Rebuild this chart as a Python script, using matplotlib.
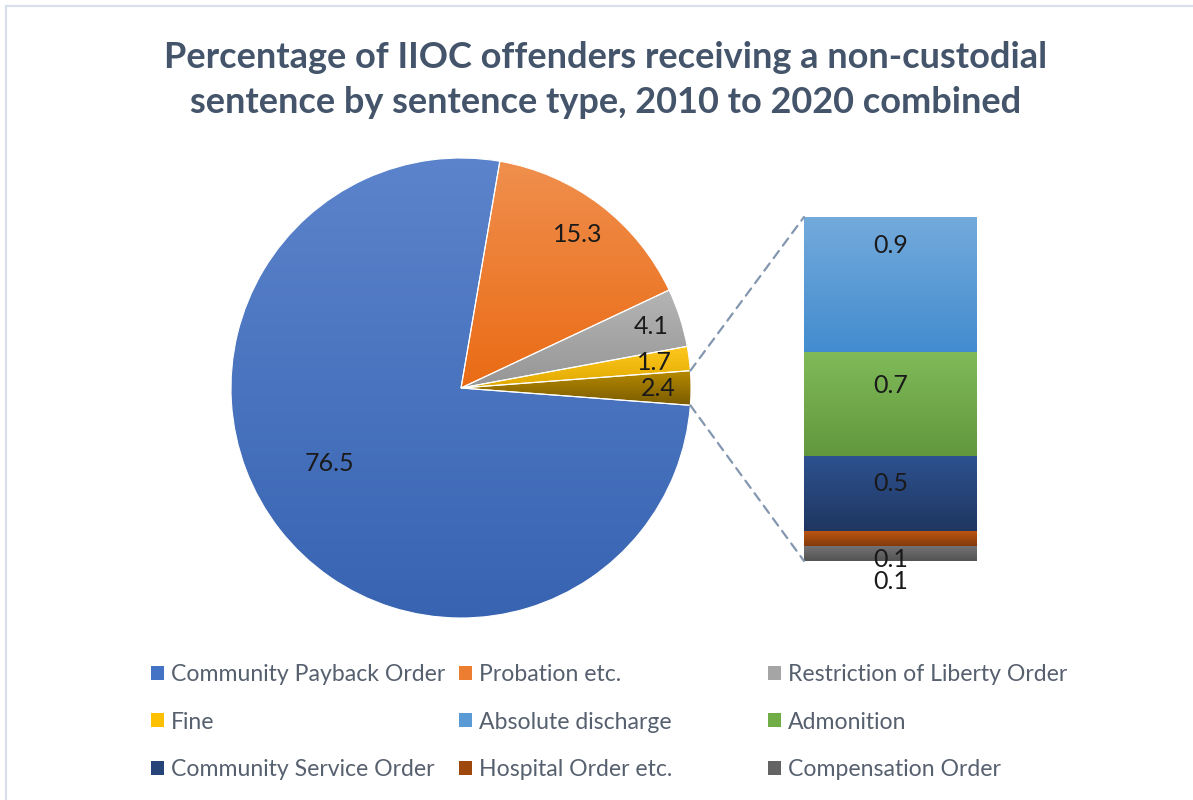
import matplotlib
matplotlib.use('Agg')
import matplotlib.pyplot as plt
import numpy as np
import colorsys
from matplotlib.colors import to_rgb
from matplotlib.patches import Patch, Rectangle, ConnectionPatch

# data
pie_labels = ['Community Payback Order', 'Probation etc.', 'Restriction of Liberty Order', 'Fine', 'Other']
pie_values = [76.5, 15.3, 4.1, 1.7, 2.4]
pie_colors = ['#4472C4', '#ED7D31', '#A5A5A5', '#FFC000', '#997300']

bar_labels = ['Compensation Order', 'Hospital Order etc.', 'Community Service Order', 'Admonition', 'Absolute discharge']
bar_values = [0.1, 0.1, 0.5, 0.7, 0.9]
bar_colors = ['#636363', '#9E480E', '#264478', '#70AD47', '#5B9BD5']

title = 'Percentage of IIOC offenders receiving a non-custodial\nsentence by sentence type, 2010 to 2020 combined'

W, H = 1193, 800
plt.rcParams['font.family'] = ['Lato', 'DejaVu Sans']
fig = plt.figure(figsize=(W / 100, H / 100), dpi=100)

# light frame (top and left edges visible)
fig.add_artist(Rectangle((6 / W, -0.1), 2, 1.1 - 6 / H, transform=fig.transFigure,
                         facecolor='none', edgecolor='#D9DFEA', linewidth=1.6))


def lighten(color, dl):
    h, l, s = colorsys.rgb_to_hls(*to_rgb(color))
    return np.array(colorsys.hls_to_rgb(h, min(max(l + dl, 0), 1), s))


def shade(ax, patch, color, z):
    ext = patch.get_path().transformed(patch.get_patch_transform()).get_extents()
    top = lighten(color, 0.06)
    bot = lighten(color, -0.06)
    t = np.linspace(0, 1, 64)[:, None]
    img = (bot * (1 - t) + top * t)[:, None, :]
    im = ax.imshow(img, extent=[ext.x0, ext.x1, ext.y0, ext.y1], origin='lower',
                   aspect='auto', interpolation='bilinear', zorder=z)
    im.set_clip_path(patch)


# pie
ax_pie = fig.add_axes([231 / W, (H - 388 - 230) / H, 460 / W, 460 / H])
start = -pie_values[-1] / sum(pie_values) * 180
wedges, _ = ax_pie.pie(pie_values, colors=pie_colors, startangle=start, counterclock=False,
                       radius=1, wedgeprops=dict(edgecolor='white', linewidth=0.8))
for w, c in zip(wedges, pie_colors):
    w.set_facecolor('none')
    w.set_zorder(3)
    shade(ax_pie, w, c, 2)

label_dist = [0.66, 0.84, 0.87, 0.85, 0.86]
label_turn = [-8, 0, 0, 0, 0]
for w, v, d, s in zip(wedges, pie_values, label_dist, label_turn):
    a = np.deg2rad((w.theta1 + w.theta2) / 2 + s)
    ax_pie.text(d * np.cos(a), d * np.sin(a), f'{v:.1f}', ha='center', va='center',
                fontsize=18, color='#1a1a1a', zorder=5)
ax_pie.set_xlim(-1, 1)
ax_pie.set_ylim(-1, 1)
ax_pie.set_aspect('equal')
ax_pie.axis('off')

# bar of the "Other" slice
total = sum(bar_values)
ax_bar = fig.add_axes([804 / W, (H - 561) / H, 173 / W, 344 / H])
bottom = 0
for v, c in zip(bar_values, bar_colors):
    b = ax_bar.bar(0, v, width=1, bottom=bottom, color=c, linewidth=0)[0]
    shade(ax_bar, b, c, 2)
    b.set_facecolor('none')
    bottom += v

bar_label_y = [-0.134, 0.007, 0.521, 1.176, 2.112]
for v, y in zip(bar_values, bar_label_y):
    ax_bar.text(0, y, f'{v:.1f}', ha='center', va='center', fontsize=18,
                color='#1a1a1a', zorder=5, clip_on=False)
ax_bar.set_xlim(-0.5, 0.5)
ax_bar.set_ylim(0, total)
ax_bar.axis('off')

# dashed connectors
ow = wedges[-1]
for ang, yb in [(max(ow.theta1, ow.theta2), total), (min(ow.theta1, ow.theta2), 0)]:
    a = np.deg2rad(ang)
    con = ConnectionPatch(xyA=(np.cos(a), np.sin(a)), coordsA=ax_pie.transData,
                          xyB=(-0.5, yb), coordsB=ax_bar.transData,
                          color='#8497B0', linestyle=(0, (4, 3)), linewidth=1.6)
    fig.add_artist(con)

# title
fig.text(606 / W, 1 - 80 / H, title, ha='center', va='center', fontsize=26,
         fontweight='bold', color='#44546A', linespacing=1.42)

# legend, filled row by row
leg_names = pie_labels[:4] + bar_labels[::-1]
leg_colors = pie_colors[:4] + bar_colors[::-1]
handles = [Patch(facecolor=c, label=n) for n, c in zip(leg_names, leg_colors)]
col_x = [151, 459, 768]
for j in range(3):
    hs = handles[j::3]
    fig.legend(handles=hs, loc='upper left', bbox_to_anchor=(col_x[j] / W, 1 - 664 / H),
               frameon=False, fontsize=16.6, labelcolor='#56606F', handlelength=0.55,
               handleheight=0.55, handletextpad=0.3, labelspacing=1.15,
               borderaxespad=0, borderpad=0)

fig.savefig('out.png', dpi=100)
